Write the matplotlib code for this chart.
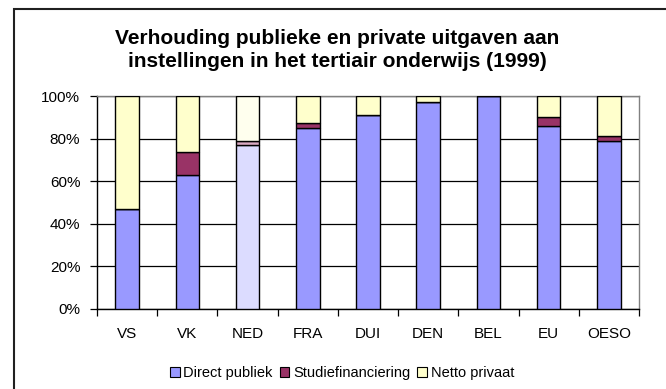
import numpy as np
import matplotlib.pyplot as plt
from matplotlib.patches import Rectangle, Patch
from matplotlib.ticker import FixedLocator, PercentFormatter

plt.rcParams['font.family'] = ['Liberation Sans', 'DejaVu Sans']

landen = ['VS', 'VK', 'NED', 'FRA', 'DUI', 'DEN', 'BEL', 'EU', 'OESO']
direct_publiek = [47, 63, 77, 85, 91, 97, 100, 86, 79]
studiefinanciering = [0, 10.5, 2, 2.5, 0, 0, 0, 4, 2]
netto_privaat = [53, 26.5, 21, 12.5, 9, 3, 0, 10, 19]

kleuren = ['#9999FF', '#993366', '#FFFFCC']
kleuren_ned = ['#DCDCFF', '#D9A9C2', '#FFFFEE']

fig = plt.figure(figsize=(6.66, 3.89), dpi=100)
ax = fig.add_axes([97 / 666, 1 - 309 / 389, 542 / 666, 213 / 389])

x = np.arange(len(landen))
breedte = 0.39
onder = np.zeros(len(landen))
for reeks, kleur, kleur_ned in zip([direct_publiek, studiefinanciering, netto_privaat], kleuren, kleuren_ned):
    waarden = np.array(reeks, dtype=float)
    fc = [kleur_ned if l == 'NED' else kleur for l in landen]
    ax.bar(x, waarden, breedte, bottom=onder, color=fc, edgecolor='black', linewidth=1.0, zorder=3)
    onder += waarden

ax.set_xlim(-0.5, len(landen) - 0.5)
ax.set_ylim(0, 100)
ax.set_yticks(np.arange(0, 101, 20))
ax.yaxis.set_major_formatter(PercentFormatter(decimals=0))
ax.grid(axis='y', color='black', linewidth=0.9, zorder=0)

# categorielabels tussen de tickstreepjes
ax.set_xticks(x)
ax.set_xticklabels(landen, fontsize=11)
ax.tick_params(axis='x', length=0, pad=13)
ax.xaxis.set_minor_locator(FixedLocator(np.arange(-0.5, len(landen), 1.0)))
ax.tick_params(axis='x', which='minor', length=5, width=0.9, direction='out')
ax.tick_params(axis='y', length=5, width=0.9, labelsize=11, pad=7)

for kant in ['top', 'right']:
    ax.spines[kant].set_color('#808080')
    ax.spines[kant].set_linewidth(1.0)
for kant in ['left', 'bottom']:
    ax.spines[kant].set_color('black')
    ax.spines[kant].set_linewidth(1.0)

fig.text(337 / 666, 1 - 50 / 389,
         'Verhouding publieke en private uitgaven aan\ninstellingen in het tertiair onderwijs (1999)',
         ha='center', va='center', fontsize=15, fontweight='bold', linespacing=1.22)

handles = [Patch(facecolor=k, edgecolor='black', linewidth=0.8) for k in kleuren]
fig.legend(handles, ['Direct publiek', 'Studiefinanciering', 'Netto privaat'],
           loc='center', bbox_to_anchor=(342 / 666, 1 - 373 / 389), ncol=3, frameon=False,
           fontsize=10.5, handlelength=0.65, handleheight=0.65, handletextpad=0.25, columnspacing=0.5)

# kader rond de hele grafiek
fig.patches.append(Rectangle((14 / 666, -0.1), 1.2, 1 - 9 / 389 + 0.1, transform=fig.transFigure,
                             fill=False, edgecolor='#202020', linewidth=1.5))

fig.savefig('out.png', dpi=100)
